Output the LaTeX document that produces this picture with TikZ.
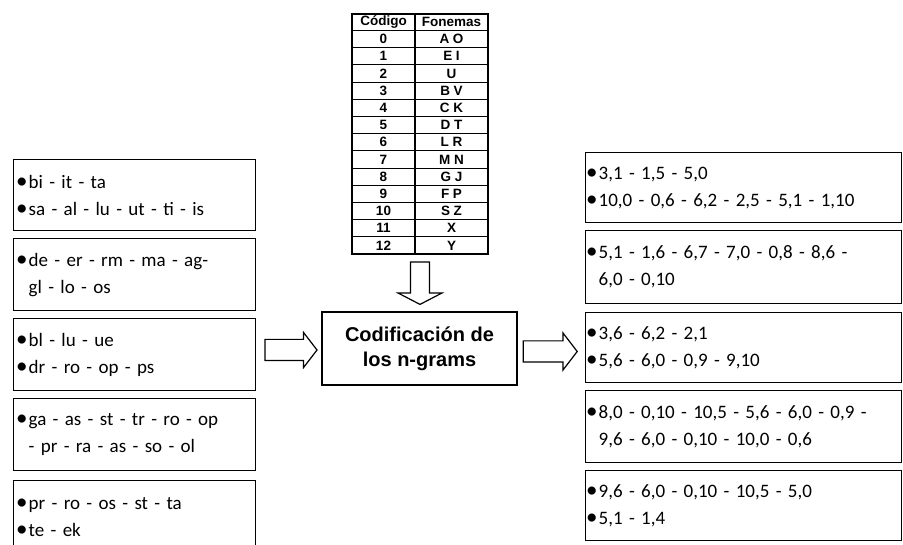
\documentclass[tikz,border=0pt]{standalone}
\usepackage{fontspec}
\setmainfont{Carlito}
\newfontfamily\arialb{Liberation Sans}
\usetikzlibrary{shapes.arrows, calc}

\tikzset{
  caja/.style={draw, line width=1.4pt, anchor=north west, align=left,
    font=\fontsize{19}{27}\selectfont},
  izq/.style={caja, inner xsep=15pt, text width=212pt},
  der/.style={caja, inner xsep=13pt, text width=290pt},
  bloque/.style={single arrow, draw, line width=1.2pt, fill=white, inner sep=0pt,
    single arrow tip angle=105, anchor=tail},
  celda/.style={font=\arialb\bfseries\fontsize{13.5}{13.5}\selectfont, inner sep=0pt},
}
\newcommand{\vin}{\leavevmode\llap{{\fontsize{23}{23}\selectfont\textbullet}\hspace{1pt}}}

\begin{document}
\begin{tikzpicture}[x=1pt, y=-1pt]
    \useasboundingbox (0,0) rectangle (903,545);

    % tabla de codigos
    \draw[line width=1.2pt] (352,14) rectangle (488,254);
    \draw[line width=1.2pt] (415,14) -- (415,254);
    \draw[line width=1pt] (352,30.5) -- (488,30.5);
    \node[celda] (hcod) at (383.5,22) {Código};
    \node[celda] (hfon) at (451.5,22) {Fonemas};
    \foreach \c/\f [count=\i from 0] in {0/A O, 1/E I, 2/U, 3/B V, 4/C K, 5/D T, 6/L R,
        7/M N, 8/G J, 9/F P, 10/S Z, 11/X, 12/Y} {
      \node[celda] at (383.5, 30.5+17.2*\i+8.6) {\c};
      \node[celda] at (451.5, 30.5+17.2*\i+8.6) {\f};
      \ifnum\i>0
        \draw[line width=1pt] (352, 30.5+17.2*\i) -- (488, 30.5+17.2*\i);
      \fi
    }
    \coordinate (tabla) at (420,254);

    % caja central
    \node[draw, line width=1.2pt, minimum width=195pt, minimum height=73pt,
      align=center, font=\arialb\bfseries\fontsize{20}{25}\selectfont]
      (cod) at (419.5,348.5) {Codificación de\\los n-grams};

    % n-grams (izquierda)
    \node[izq, minimum height=71pt] (izq1) at (13,159)
      {\vin bi - it - ta\\ \vin sa - al - lu - ut - ti - is};
    \node[izq, minimum height=72pt] (izq2) at (13,238)
      {\vin de - er - rm - ma - ag-\\ gl - lo - os};
    \node[izq, minimum height=72pt] (izq3) at (13,318)
      {\vin bl - lu - ue\\ \vin dr - ro - op - ps};
    \node[izq, minimum height=72pt] (izq4) at (13,398)
      {\vin ga - as - st - tr - ro - op\\ - pr - ra - as - so - ol};
    \node[izq, minimum height=72pt] (izq5) at (13,480)
      {\vin pr - ro - os - st - ta\\ \vin te - ek};

    % codigos (derecha)
    \node[der, minimum height=70pt] (der1) at (585,152)
      {\vin 3,1 - 1,5 - 5,0\\ \vin 10,0 - 0,6 - 6,2 - 2,5 - 5,1 - 1,10};
    \node[der, minimum height=73pt] (der2) at (585,230)
      {\vin 5,1 - 1,6 - 6,7 - 7,0 - 0,8 - 8,6 -\\ 6,0 - 0,10};
    \node[der, minimum height=70pt] (der3) at (585,312)
      {\vin 3,6 - 6,2 - 2,1\\ \vin 5,6 - 6,0 - 0,9 - 9,10};
    \node[der, minimum height=72pt] (der4) at (585,390)
      {\vin 8,0 - 0,10 - 10,5 - 5,6 - 6,0 - 0,9 -\\ 9,6 - 6,0 - 0,10 - 10,0 - 0,6};
    \node[der, minimum height=70pt] (der5) at (585,470)
      {\vin 9,6 - 6,0 - 0,10 - 10,5 - 5,0\\ \vin 5,1 - 1,4};

    % flechas de bloque
    \node[bloque, inner ysep=10pt, minimum height=52pt, single arrow head extend=7pt]
      (f1) at ($(izq3.east |- cod.west)+(8,1.5)$) {};
    \node[bloque, inner ysep=10pt, minimum height=54pt, single arrow head extend=8pt]
      (f2) at ($(cod.east)+(5,3)$) {};
    \draw[line width=1.2pt, fill=white, line join=miter]
      ($(tabla)+(-9.5,8)$) -- ($(tabla)+(9.5,8)$) -- ($(tabla)+(9.5,39)$)
      -- ($(tabla)+(22,39)$) -- ($(cod.north)+(0.5,-7)$) -- ($(tabla)+(-22,39)$)
      -- ($(tabla)+(-9.5,39)$) -- cycle;
\end{tikzpicture}
\end{document}
